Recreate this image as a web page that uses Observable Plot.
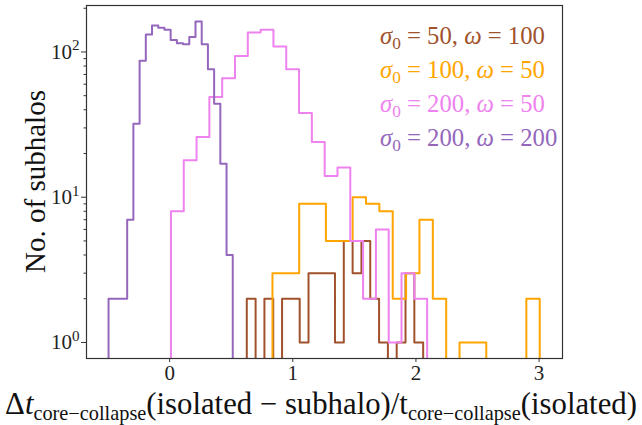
<!DOCTYPE html>
<html>
<head>
<meta charset="utf-8">
<script src="https://cdn.jsdelivr.net/npm/d3@7"></script>
<script src="https://cdn.jsdelivr.net/npm/@observablehq/plot@0.6"></script>
<style>
  body { margin: 0; background: #fff; }
  #chart svg { display: block; }
</style>
</head>
<body>
<div id="chart"></div>
<script>
// Step histograms of the relative shift in core-collapse time, one per (sigma0, omega) model.
const seriesKeys = ["s50_w100", "s100_w50", "s200_w50", "s200_w200"];
const sigma0 = [50, 100, 200, 200];
const omega = [100, 50, 50, 200];

// Range covered by each histogram (20 equal bins each)
const binStart = [0.6265, 0.835, 0.0106, -0.496];
const binEnd = [2.0586, 3.005, 2.091, 0.5126];

// Counts per bin
const counts50_100 = [2, 0, 2, 0, 2, 2, 1, 3, 3, 3, 1, 5, 3, 5, 2, 1, 0, 1, 3, 1];
const counts100_50 = [3, 3, 9, 9, 5, 5, 10, 9, 8, 2, 3, 7, 2, 0, 1, 1, 0, 0, 0, 2];
const counts200_50 = [8, 18, 26, 49, 66, 94, 136, 142, 109, 76, 38, 24, 14, 16, 5, 2, 6, 1, 3, 2];
const counts200_200 = [2, 2, 2, 7, 32, 87, 132, 152, 147, 142, 121, 115, 113, 127, 162, 113, 76, 44, 17, 4];
const allCounts = [counts50_100, counts100_50, counts200_50, counts200_200];

// Axis ticks
const xTicks = [0, 1, 2, 3];
const yMajor = [1, 10, 100];
const yMinor = [2, 3, 4, 5, 6, 7, 8, 9, 20, 30, 40, 50, 60, 70, 80, 90, 200];

const palette = ["#a0522d", "#ffa500", "#ee82ee", "#9467bd"];
const FONT = "'Liberation Serif', 'DejaVu Serif', serif";

// Empty bins sit far below the visible range so the outline drops to the axis
const FLOOR = 0.01;

const rows = [];
seriesKeys.forEach((key, k) => {
  const c = allCounts[k];
  const w = (binEnd[k] - binStart[k]) / c.length;
  rows.push({ key, x: binStart[k], y: FLOOR });
  c.forEach((v, i) => rows.push({ key, x: binStart[k] + i * w, y: v > 0 ? v : FLOOR }));
  rows.push({ key, x: binEnd[k], y: FLOOR });
});

// Log-axis limits padded by 5% of the decades spanned
const maxCount = d3.max(allCounts.flat());
const span = Math.log10(maxCount);
const yDomain = [Math.pow(10, -0.05 * span), Math.pow(10, span * 1.05)];

const chart = Plot.plot({
  width: 642,
  height: 425,
  marginLeft: 86,
  marginRight: 80,
  marginTop: 5,
  marginBottom: 67,
  style: { fontFamily: FONT, background: "#fff", color: "#222" },
  x: { domain: [-0.675, 3.19], axis: null },
  y: { type: "log", domain: yDomain, axis: null },
  color: { domain: seriesKeys, range: palette },
  marks: [
    Plot.line(rows, {
      x: "x", y: "y", z: "key", stroke: "key",
      curve: "step-after", strokeWidth: 2, clip: true
    }),
    Plot.axisX({ ticks: xTicks, tickSize: 4, tickPadding: 3, fontSize: 21, fontFamily: FONT,
      label: null, tickFormat: d => String(d), stroke: "#333" }),
    Plot.axisY({ ticks: yMinor, tickSize: 2.5, label: null, tickFormat: () => "", stroke: "#333" }),
    Plot.axisY({ ticks: yMajor, tickSize: 5, tickPadding: 2, fontSize: 21, fontFamily: FONT, label: null,
      tickFormat: d => String(Math.round(Math.log10(d))), stroke: "#333" }),
    Plot.frame({ stroke: "#333", strokeWidth: 1.2 })
  ]
});

document.getElementById("chart").appendChild(chart);
const svg = d3.select(chart);

// Powers of ten on the y axis: "10" with a raised exponent
svg.selectAll('[aria-label="y-axis tick label"] text').each(function () {
  const exp = this.textContent;
  if (exp === "") return;
  const t = d3.select(this);
  t.text("10");
  t.append("tspan").attr("font-size", "72%").attr("dy", "-0.55em").text(exp);
});

function fitWidth(node, target) {
  const w = node.getBBox().width;
  const fs = parseFloat(node.getAttribute("font-size"));
  node.setAttribute("font-size", fs * target / w);
}

// x-axis title with subscripts
const xl = svg.append("text")
  .attr("x", 321).attr("y", 414)
  .attr("text-anchor", "middle")
  .attr("font-family", FONT).attr("font-size", 24).attr("fill", "#111");
xl.append("tspan").text("Δ");
xl.append("tspan").attr("font-style", "italic").text("t");
xl.append("tspan").attr("font-size", "66%").attr("dy", "0.3em").text("core−collapse");
xl.append("tspan").attr("dy", "-0.2em").text("(isolated − subhalo)/t");
xl.append("tspan").attr("font-size", "66%").attr("dy", "0.3em").text("core−collapse");
xl.append("tspan").attr("dy", "-0.2em").text("(isolated)");
fitWidth(xl.node(), 632);

// y-axis title, centred on the plot area
const yl = svg.append("text")
  .attr("transform", "translate(45,181.5) rotate(-90)")
  .attr("text-anchor", "middle")
  .attr("font-family", FONT).attr("font-size", 26).attr("fill", "#111")
  .text("No. of subhalos");
fitWidth(yl.node(), 183);

// Coloured legend entries, one line per model
let legendSize = null;
seriesKeys.forEach((key, k) => {
  const t = svg.append("text")
    .attr("x", 380).attr("y", 44 + k * 34)
    .attr("text-anchor", "start")
    .attr("font-family", FONT).attr("font-size", legendSize || 22)
    .attr("fill", palette[k]);
  t.append("tspan").attr("font-style", "italic").text("σ");
  t.append("tspan").attr("font-size", "70%").attr("dy", "0.3em").text("0");
  t.append("tspan").attr("dy", "-0.21em").text(` = ${sigma0[k]}, `);
  t.append("tspan").attr("font-style", "italic").text("ω");
  t.append("tspan").text(` = ${omega[k]}`);
  if (k === 0) { fitWidth(t.node(), 165); legendSize = t.attr("font-size"); }
});
</script>
</body>
</html>
